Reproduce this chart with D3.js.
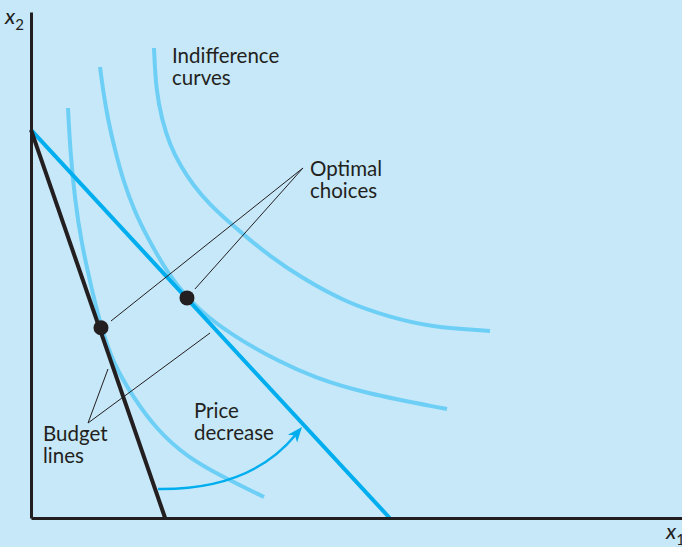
<!DOCTYPE html>
<html><head><meta charset="utf-8">
<script src="https://cdn.jsdelivr.net/npm/d3@7"></script>
<style>html,body{margin:0;padding:0;background:#c6e8f8;}svg{display:block;}</style>
</head><body>
<svg id="c" width="682" height="547"></svg>
<script>
// ---- data (abstract units: x1 0..100, x2 0..100) ----
const curve1X = [5.68, 6.07, 6.76, 7.68, 8.99, 10.75, 12.60, 15.67, 19.35, 23.96, 29.49, 35.79];
const curve1Y = [81.03, 71.74, 62.85, 54.94, 47.04, 37.75, 30.63, 23.91, 17.39, 12.06, 8.10, 4.15];
const curve2X = [10.60, 11.06, 11.83, 12.90, 14.13, 15.82, 17.82, 21.35, 23.96, 27.04, 32.10, 38.25, 43.32, 51.00, 63.90];
const curve2Y = [89.13, 84.58, 78.66, 72.73, 66.80, 60.87, 55.53, 47.63, 43.68, 39.72, 35.18, 30.83, 27.87, 24.70, 21.54];
const curve3X = [18.89, 19.20, 20.12, 21.35, 22.89, 24.88, 27.50, 30.57, 33.64, 36.71, 41.32, 48.54, 55.15, 61.29, 70.51];
const curve3Y = [92.89, 84.58, 78.66, 73.72, 69.76, 65.81, 61.86, 58.30, 54.94, 51.78, 47.63, 42.49, 39.72, 37.75, 36.96];
const budgetIntercept = 76.7;            // x2 intercept shared by both lines
const budgetEnds = [20.6, 55.1];          // x1 intercepts: before / after price decrease
const choiceX = [10.75, 23.96];
const choiceY = [37.6, 43.5];
const optimalApex = [41.78, 69.17];
const optimalEnds = [[12.29, 38.93], [25.19, 45.26]];
const budgetApex = [8.76, 18.77];
const budgetLeaderEnds = [[11.83, 29.45], [27.50, 36.56]];
const arrowPts = [[19.51, 5.73], [33.64, 5.53], [41.63, 17.98]];
const labelIndiff = ["Indifference", "curves"];
const labelOptimal = ["Optimal", "choices"];
const labelBudget = ["Budget", "lines"];
const labelPrice = ["Price", "decrease"];

const W = 682, H = 547;
const svg = d3.select("#c");
svg.append("rect").attr("width", W).attr("height", H).attr("fill", "#c6e8f8");

const x = d3.scaleLinear().domain([0, 100]).range([31, 682]);
const y = d3.scaleLinear().domain([0, 100]).range([518, 12]);

const CURVE = "#6dcff6", BLUE = "#00aeef", INK = "#231f20";
const font = "Lato, 'Open Sans', sans-serif";

// indifference curves
const line = d3.line().x(d => x(d[0])).y(d => y(d[1])).curve(d3.curveBasis);
[[curve1X, curve1Y], [curve2X, curve2Y], [curve3X, curve3Y]].forEach(([cx, cy]) => {
  svg.append("path").datum(cx.map((v, i) => [v, cy[i]]))
    .attr("d", line).attr("fill", "none").attr("stroke", CURVE).attr("stroke-width", 4);
});

// budget lines
svg.append("line").attr("x1", x(0)).attr("y1", y(budgetIntercept)).attr("x2", x(budgetEnds[1])).attr("y2", y(0))
  .attr("stroke", BLUE).attr("stroke-width", 4);
svg.append("line").attr("x1", x(0)).attr("y1", y(budgetIntercept)).attr("x2", x(budgetEnds[0])).attr("y2", y(0))
  .attr("stroke", INK).attr("stroke-width", 4);

// axes
const xAxis = svg.append("g").attr("transform", `translate(0,${y(0)})`)
  .call(d3.axisBottom(x).ticks(0).tickSize(0).tickSizeOuter(0));
const yAxis = svg.append("g").attr("transform", `translate(${x(0)},0)`)
  .call(d3.axisLeft(y).ticks(0).tickSize(0).tickSizeOuter(0));
[xAxis, yAxis].forEach(g => { g.select(".domain").attr("stroke", INK).attr("stroke-width", 3); g.selectAll("text").remove(); });

// leader lines
function leader(apex, ends) {
  ends.forEach(e => svg.append("line").attr("x1", x(apex[0])).attr("y1", y(apex[1]))
    .attr("x2", x(e[0])).attr("y2", y(e[1])).attr("stroke", INK).attr("stroke-width", 1));
}
leader(optimalApex, optimalEnds);
leader(budgetApex, budgetLeaderEnds);

// optimal choice dots
svg.selectAll("circle.dot").data(choiceX.map((v, i) => [v, choiceY[i]])).enter().append("circle")
  .attr("cx", d => x(d[0])).attr("cy", d => y(d[1])).attr("r", 7.5).attr("fill", INK);

// price decrease arrow
const p = arrowPts.map(d => [x(d[0]), y(d[1])]);
const ang = Math.atan2(p[2][1] - p[1][1], p[2][0] - p[1][0]);
const headLen = 15, headW = 6;
const bx = p[2][0] - headLen * Math.cos(ang), by = p[2][1] - headLen * Math.sin(ang);
svg.append("path").attr("d", `M${p[0][0]},${p[0][1]} Q${p[1][0]},${p[1][1]} ${bx + 4*Math.cos(ang)},${by + 4*Math.sin(ang)}`)
  .attr("fill", "none").attr("stroke", BLUE).attr("stroke-width", 2.5);
svg.append("path").attr("d",
  `M${p[2][0]},${p[2][1]} L${bx - headW*Math.sin(ang)},${by + headW*Math.cos(ang)} L${bx + 4*Math.cos(ang)},${by + 4*Math.sin(ang)} L${bx + headW*Math.sin(ang)},${by - headW*Math.cos(ang)} Z`)
  .attr("fill", BLUE);

// labels
function label(lines, px, py) {
  const t = svg.append("text").attr("font-family", font).attr("font-size", 20.5).attr("fill", INK);
  lines.forEach((s, i) => t.append("tspan").attr("x", px).attr("y", py + i * 22).text(s));
}
label(labelIndiff, 172, 63);
label(labelOptimal, 310, 176);
label(labelBudget, 43, 441);
label(labelPrice, 194, 418);

// axis titles
function axisTitle(px, py, sub) {
  const t = svg.append("text").attr("x", px).attr("y", py).attr("font-family", font).attr("fill", INK);
  t.append("tspan").attr("font-size", 22).attr("font-style", "italic").text("x");
  t.append("tspan").attr("font-size", 15).attr("dy", 6).text(sub);
}
axisTitle(5, 24, "2");
axisTitle(666, 539, "1");
</script>
</body></html>
